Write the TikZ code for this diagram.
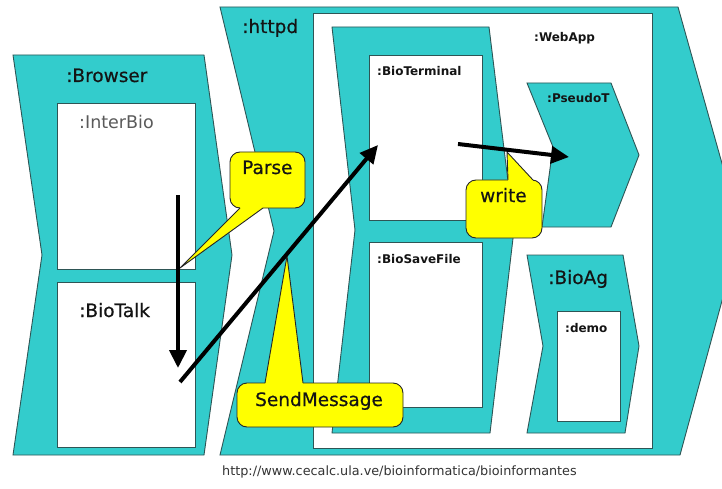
\documentclass[tikz,border=0pt]{standalone}
\usepackage{fontspec}
\setmainfont{DejaVu Sans}
\newfontfamily\heavysans[FakeBold=0.5]{DejaVu Sans}
\usetikzlibrary{arrows.meta}

\definecolor{compfill}{HTML}{33CCCC}
\definecolor{edgeline}{HTML}{2E5555}
\definecolor{notefill}{HTML}{FFFF00}
\definecolor{inktext}{HTML}{141414}
\definecolor{softtext}{HTML}{5A5A5A}

\tikzset{
  comp/.style={fill=compfill, draw=edgeline, line width=0.9pt, line join=miter},
  pane/.style={fill=white, draw=edgeline, line width=0.9pt},
  biglabel/.style={inner sep=0pt, anchor=base west, text=inktext,
    font=\heavysans\fontsize{18.5}{21}\selectfont},
  softlabel/.style={inner sep=0pt, anchor=base west, text=softtext,
    font=\fontsize{17.5}{20}\selectfont},
  smalllabel/.style={inner sep=0pt, anchor=base west, text=inktext,
    font=\bfseries\fontsize{12}{14}\selectfont},
  note/.style={fill=notefill, draw=black!85, line width=0.9pt, rounded corners=10pt},
  notetail/.style={draw=black!85, line width=0.9pt, line join=miter},
  flow/.style={line width=4pt, draw=black, -{Triangle[length=18pt,width=17pt]}},
}

\begin{document}
\begin{tikzpicture}[x=1pt, y=-1pt]
\useasboundingbox (0,0) rectangle (722,489);

% --- :Browser component with its two panes
\draw[comp] (13,55) -- (204,55) -- (232,255) -- (204,455) -- (13,455) -- (42,255) -- cycle;
\draw[pane] (57,103) rectangle (195,269);
\draw[pane] (57,282) rectangle (195,447);

% --- :httpd component (its point runs past the right border)
\begin{scope}
  \clip (0,0) rectangle (722,489);
  \draw[comp] (220,7) -- (678,7) -- (741,231) -- (680,455) -- (220,455) -- (274,231) -- cycle;
\end{scope}

% --- :WebApp area
\draw[pane] (313,13) rectangle (652,448);

% terminal container with :BioTerminal and :BioSaveFile
\draw[comp] (332,27) -- (489,27) -- (514,230) -- (490,433) -- (332,433) -- (355,230) -- cycle;
\draw[pane] (369,55) rectangle (482,220);
\draw[pane] (369,242) rectangle (482,407);

% :PseudoT
\draw[comp] (527,83) -- (611,83) -- (639,155) -- (611,227) -- (542,227) -- (553,147) -- cycle;

% :BioAg with :demo
\draw[comp] (527,255) -- (623,255) -- (639,346) -- (625,433) -- (527,433) -- (543,346) -- cycle;
\draw[pane] (557,311) rectangle (620,421);

% --- labels
\node[biglabel] (lbrowser) at (66,82) {:Browser};
\node[biglabel] (lhttpd) at (242,33) {:httpd};
\node[softlabel] (linterbio) at (79,129) {:InterBio};
\node[biglabel] (lbiotalk) at (79,317) {:BioTalk};
\node[smalllabel] (lwebapp) at (534,42) {:WebApp};
\node[smalllabel] (lbioterminal) at (377,76) {:BioTerminal};
\node[smalllabel] (lpseudot) at (547,103) {:PseudoT};
\node[smalllabel] (lbiosavefile) at (377,263) {:BioSaveFile};
\node[biglabel] (lbioag) at (548,284) {:BioAg};
\node[smalllabel] (ldemo) at (565,332) {:demo};

% --- note bubbles
% Parse
\draw[note] (230,152) rectangle (305,208);
\fill[notefill] (241,205) -- (240,208) -- (180,268) -- (263,208) -- (262,205) -- cycle;
\draw[notetail] (240,208) -- (180,268) -- (263,208);
\node[biglabel] (lparse) at (242,174) {Parse};

% write
\draw[note] (466,180) rectangle (542,238);
\fill[notefill] (508,183) -- (508,180) -- (507,152) -- (533,180) -- (532,183) -- cycle;
\draw[notetail] (508,180) -- (507,152) -- (533,180);
\node[biglabel] (lwrite) at (480,202) {write};

% SendMessage
\draw[note] (237,383) rectangle (403,427);
\fill[notefill] (266,386) -- (265,383) -- (287,256) -- (303,383) -- (302,386) -- cycle;
\draw[notetail] (265,383) -- (287,256) -- (303,383);
\node[biglabel] (lsend) at (255,406) {SendMessage};

% --- message flows
\coordinate (parseStart) at (178,195);
\coordinate (parseEnd) at (178,368);
\coordinate (sendStart) at (180,382);
\coordinate (sendEnd) at (378,145);
\coordinate (writeStart) at (458,144);
\coordinate (writeEnd) at (569,157);
\draw[flow] (parseStart) -- (parseEnd);
\draw[flow] (sendStart) -- (sendEnd);
\draw[flow] (writeStart) -- (writeEnd);

% --- source line
\node[inner sep=0pt, anchor=base west, text=black!80,
      font=\fontsize{12.8}{15}\selectfont] (lurl) at (222,475)
  {http://www.cecalc.ula.ve/bioinformatica/bioinformantes};
\end{tikzpicture}
\end{document}
